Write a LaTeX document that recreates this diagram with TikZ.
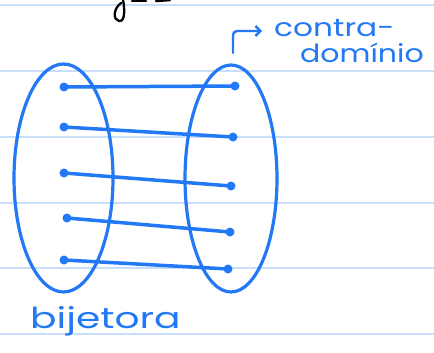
\documentclass[tikz,border=0pt]{standalone}
\usepackage{fontspec}
\setmainfont{Poppins}
\usetikzlibrary{arrows.meta}
\definecolor{ink}{RGB}{35,120,245}
\definecolor{rule}{RGB}{200,222,250}
\tikzset{
  dot/.style={circle, fill=ink, inner sep=0pt, minimum size=9pt},
  conn/.style={ink, line width=3.5pt, line cap=round},
  oval/.style={ink, line width=3.2pt},
  ruleline/.style={rule, line width=2pt},
  hand/.style={text=ink, inner sep=0pt, anchor=base west},
}
\begin{document}
\begin{tikzpicture}[x=1pt,y=-1pt]
\useasboundingbox (0,0) rectangle (434,353);
\fill[white] (0,0) rectangle (434,353);
% ruled lines
\foreach \yy in {5,71,137,203,268,334}
  \draw[ruleline] (0,\yy) -- (434,\yy);
% black scribble (cut-off handwriting)
\draw[black, line width=2.3pt, line cap=round, line join=round]
  (123,0) .. controls (125,10) and (125,22) .. (119,21)
  .. controls (113,20) and (113,9) .. (121,3);
\draw[black, line width=2.5pt, line cap=round] (132,1) -- (146,1);
\draw[black, line width=2.5pt, line cap=round] (156,1) -- (170,0);
% sets
\draw[oval] (63.5,178) ellipse [x radius=49.5, y radius=114];
\draw[oval] (231,178.5) ellipse [x radius=46, y radius=113.5];
% elements
\node[dot] (a1) at (64,87) {};
\node[dot] (a2) at (64,127) {};
\node[dot] (a3) at (64,173) {};
\node[dot] (a4) at (67,218) {};
\node[dot] (a5) at (64,260) {};
\node[dot] (b1) at (235,86) {};
\node[dot] (b2) at (233,137) {};
\node[dot] (b3) at (231,186) {};
\node[dot] (b4) at (230,232) {};
\node[dot] (b5) at (228,269) {};
\foreach \i in {1,...,5}
  \draw[conn] (a\i.center) -- (b\i.center);
% arrow to label
\coordinate (arS) at (233,53);
\coordinate (arE) at (262,31);
\draw[ink, line width=2.4pt, line cap=round, line join=round, rounded corners=4pt,
  -{Straight Barb[length=5pt,width=10pt,line width=2.4pt]}] (arS) |- (arE);
% labels
\node[hand] (l1) at (274,37) {\scalebox{1.25}[1]{\fontsize{25}{25}\selectfont contra-}};
\node[hand] (l2) at (300,63) {\scalebox{1.2}[1]{\fontsize{25}{25}\selectfont domínio}};
\node[hand] (l3) at (30,328) {\scalebox{1.35}[1]{\fontsize{29}{29}\selectfont bijetora}};
\end{tikzpicture}
\end{document}
